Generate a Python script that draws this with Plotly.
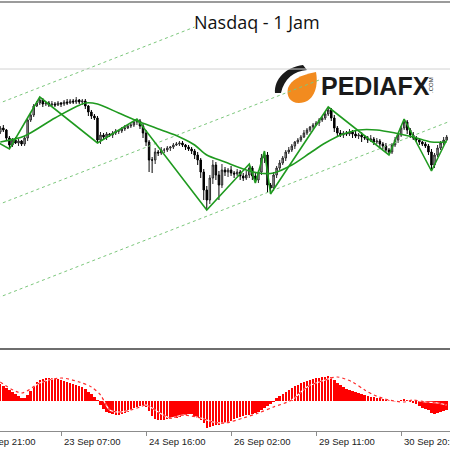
import plotly.graph_objects as go

W, H = 450, 450

# candles (hourly), one value per bar
closes = [
    15172, 15170, 15162, 15155, 15160, 15157, 15159, 15156, 15162, 15180,
    15185, 15194, 15197, 15200, 15196, 15197, 15195, 15196, 15195, 15197,
    15196, 15198, 15197, 15199, 15198, 15200, 15198, 15199, 15194, 15188,
    15184, 15182, 15160, 15165, 15163, 15166, 15165, 15167, 15169, 15169,
    15171, 15172, 15174, 15175, 15178, 15179, 15174, 15167, 15158, 15140,
    15140, 15148, 15147, 15150, 15150, 15152, 15153, 15155, 15156, 15157,
    15155, 15153, 15151, 15149, 15145, 15140, 15128, 15110, 15100, 15122,
    15135, 15125, 15115, 15130, 15128, 15130, 15127, 15126, 15128, 15124,
    15122, 15125, 15132, 15124, 15120, 15128, 15142, 15145, 15115, 15112,
    15125, 15132, 15137, 15142, 15148, 15150, 15154, 15158, 15160, 15163,
    15167, 15170, 15173, 15175, 15177, 15180, 15182, 15186, 15190, 15182,
    15172, 15167, 15165, 15167, 15166, 15168, 15166, 15164, 15165, 15163,
    15162, 15160, 15161, 15158, 15159, 15156, 15154, 15150, 15148, 15155,
    15160, 15165, 15172, 15178, 15170, 15165, 15162, 15160, 15158, 15156,
    15154, 15148, 15135, 15145, 15152, 15157, 15160, 15163,
]
first_open = 15168
upper_wick = [
    2, 3, 1, 2, 2, 3, 2, 1, 2, 2,
    3, 2, 2, 3, 2, 1, 2, 3, 2, 2,
    1, 2, 3, 2, 2, 3, 1, 2, 2, 1,
    2, 2, 2, 3, 2, 2, 1, 2, 2, 1,
    2, 3, 2, 2, 1, 2, 2, 2, 3, 2,
    3, 4, 2, 3, 2, 2, 1, 2, 2, 2,
    2, 1, 2, 2, 2, 3, 2, 3, 4, 3,
    5, 3, 4, 6, 3, 2, 4, 2, 3, 2,
    3, 4, 4, 2, 3, 2, 4, 4, 3, 2,
    3, 2, 3, 2, 2, 3, 2, 1, 2, 2,
    3, 2, 1, 2, 2, 2, 1, 2, 3, 2,
    3, 2, 3, 2, 2, 3, 2, 3, 2, 3,
    2, 2, 4, 2, 3, 2, 2, 3, 2, 2,
    3, 2, 2, 3, 2, 2, 3, 2, 2, 1,
    2, 2, 3, 2, 3, 2, 3, 2,
]
lower_wick = [
    2, 2, 3, 4, 2, 1, 3, 2, 2, 3,
    2, 2, 1, 2, 3, 2, 2, 1, 2, 1,
    3, 2, 2, 1, 2, 2, 2, 3, 3, 4,
    3, 2, 3, 4, 2, 3, 2, 3, 2, 3,
    2, 2, 1, 2, 2, 3, 3, 5, 4, 12,
    13, 4, 3, 2, 3, 2, 3, 2, 1, 2,
    2, 3, 2, 3, 4, 5, 6, 10, 10, 4,
    6, 5, 15, 3, 4, 5, 3, 4, 2, 4,
    3, 2, 3, 4, 3, 3, 3, 5, 8, 6,
    3, 3, 2, 2, 3, 2, 2, 3, 2, 2,
    1, 2, 2, 2, 1, 3, 2, 2, 2, 3,
    4, 3, 2, 3, 2, 2, 4, 2, 3, 5,
    2, 3, 2, 3, 2, 4, 3, 2, 3, 2,
    2, 3, 2, 2, 4, 3, 2, 2, 3, 2,
    2, 3, 6, 3, 2, 2, 2, 1,
]

# moving average, read at a few bars
ma_bars = [0, 8, 18, 28, 32, 39, 46, 53, 59, 64, 68, 74, 81, 85, 90, 96,
           102, 107, 113, 118, 124, 130, 136, 142, 147]
ma_vals = [15158, 15164, 15182, 15197, 15196, 15187, 15178, 15170, 15163,
           15155, 15145, 15138, 15130, 15127, 15127, 15135, 15147, 15157,
           15166, 15170, 15170, 15167, 15163, 15158, 15158]

# zigzag swing points
zz_bars = [-4, 3, 13, 32, 45, 68, 82, 84, 87, 89, 108, 128, 133, 142, 147]
zz_vals = [15163, 15151, 15203, 15157, 15181, 15090, 15136, 15117, 15149,
           15106, 15193, 15145, 15181, 15129, 15160]

# equidistant channel (three dotted lines)
chan_top_bars, chan_top_vals = [-1, 64], [15196, 15273]
chan_mid_bars, chan_mid_vals = [-1, 105], [15095, 15220]
chan_low_bars, chan_low_vals = [-1, 150], [15002, 15181]

# MACD main (histogram) and signal
macd_hist = [
    17, 15, 13, 11, 9, 7, 5, 3, 3, 6,
    10, 15, 19, 21, 22, 23, 23, 23, 23, 22,
    21, 20, 19, 18, 17, 16, 15, 14, 12, 9,
    7, 4, 1, -4, -8, -11, -12, -13, -14, -14,
    -13, -12, -11, -9, -7, -6, -5, -4, -6, -10,
    -15, -18, -19, -19, -19, -18, -18, -17, -17, -16,
    -15, -14, -13, -13, -16, -17, -19, -22, -27, -26,
    -25, -24, -24, -23, -22, -21, -20, -18, -17, -16,
    -15, -14, -14, -13, -12, -11, -9, -7, -5, -3,
    -1, 3, 5, 7, 9, 11, 13, 15, 16, 18,
    19, 20, 21, 22, 23, 23, 24, 24, 25, 24,
    21, 18, 16, 14, 12, 11, 10, 9, 8, 7,
    6, 5, 4, 4, 3, 3, 2, 2, 1, 0,
    -1, -1, 1, 2, 1, -1, -2, -3, -5, -7,
    -8, -9, -12, -13, -12, -11, -10, -9,
]
sig_bars = [0, 7, 13, 20, 26, 30, 33, 36, 39, 43, 46, 48, 52, 56, 60, 66, 70,
            74, 80, 85, 90, 96, 101, 107, 111, 116, 120, 123, 128, 133, 136,
            140, 144, 147]
sig_vals = [19, 8, 18, 23, 19, 14, 6, -9, -11, -9, -6, -4, -11, -17, -14, -17,
            -21, -22, -17, -12, -6, 1, 14, 21, 24, 19, 11, 6, 1, -1, 1, -1,
            -2, -4]

tick_bars = [-8, 20, 48, 76, 104, 132]
tick_labels = ['22 Sep 21:00', '23 Sep 07:00', '24 Sep 16:00',
               '26 Sep 02:00', '29 Sep 11:00', '30 Sep 20:00']

assert len(closes) == len(upper_wick) == len(lower_wick) == len(macd_hist)

bars = list(range(len(closes)))
opens = [first_open] + closes[:-1]
highs = [max(o, c) + w for o, c, w in zip(opens, closes, upper_wick)]
lows = [min(o, c) - w for o, c, w in zip(opens, closes, lower_wick)]

X_RANGE = [-0.1, 148.1]
GREEN = '#1f9a1f'
DOT_GREEN = '#7cc77c'

fig = go.Figure()

for bx, vy in [(chan_top_bars, chan_top_vals), (chan_mid_bars, chan_mid_vals),
               (chan_low_bars, chan_low_vals)]:
    fig.add_trace(go.Scatter(x=bx, y=vy, mode='lines', hoverinfo='skip',
                             line=dict(color=DOT_GREEN, width=1, dash='dot')))

fig.add_trace(go.Candlestick(
    x=bars, open=opens, high=highs, low=lows, close=closes,
    increasing=dict(line=dict(color='#2a2a2a', width=1), fillcolor='#b4b4b4'),
    decreasing=dict(line=dict(color='#000000', width=1), fillcolor='#000000'),
    whiskerwidth=0, hoverinfo='skip',
))

fig.add_trace(go.Scatter(x=ma_bars, y=ma_vals, mode='lines', hoverinfo='skip',
                         line=dict(color=GREEN, width=1.6, shape='spline', smoothing=0.8)))
fig.add_trace(go.Scatter(x=zz_bars, y=zz_vals, mode='lines', hoverinfo='skip',
                         line=dict(color=GREEN, width=1.6)))

fig.add_trace(go.Bar(x=bars, y=macd_hist, xaxis='x', yaxis='y2', width=0.78,
                     marker=dict(color='#ff0000', line=dict(width=0)),
                     hoverinfo='skip'))
# MT4 dotted pen: white gaps under red dots
fig.add_trace(go.Scatter(x=sig_bars, y=sig_vals, xaxis='x', yaxis='y2', mode='lines',
                         hoverinfo='skip',
                         line=dict(color='white', width=1.2, shape='spline', smoothing=0.8)))
fig.add_trace(go.Scatter(x=sig_bars, y=sig_vals, xaxis='x', yaxis='y2', mode='lines',
                         hoverinfo='skip',
                         line=dict(color='#ff2a2a', width=1.2, dash='dot',
                                   shape='spline', smoothing=0.8)))


def to_paper_x(b):
    return (b - X_RANGE[0]) / (X_RANGE[1] - X_RANGE[0])


def pix_path(cmds):
    parts = []
    for cmd, pts in cmds:
        coords = ' '.join(f'{x / W:.4f},{1 - y / H:.4f}' for x, y in pts)
        parts.append(f'{cmd} {coords}')
    return ' '.join(parts) + ' Z'


shapes = [
    dict(type='line', xref='paper', yref='paper', x0=0, x1=1, y0=1 - 2 / H, y1=1 - 2 / H,
         line=dict(color='#7a7a7a', width=1.5)),
    dict(type='line', xref='paper', yref='paper', x0=0, x1=1, y0=1 - 69 / H, y1=1 - 69 / H,
         line=dict(color='#d2d2d2', width=1)),
    dict(type='line', xref='paper', yref='paper', x0=0, x1=1, y0=1 - 349 / H, y1=1 - 349 / H,
         line=dict(color='#6e6e6e', width=2)),
    # logo: orange drop and black swoosh
    dict(type='path', xref='paper', yref='paper', layer='below',
         path=pix_path([('M', [(316, 72)]),
                        ('C', [(319, 88), (313, 103), (299, 103)]),
                        ('C', [(290, 103), (286, 96), (288, 88)]),
                        ('C', [(291, 80), (300, 75), (316, 72)])]),
         fillcolor='#f28b1f', line=dict(width=0)),
    dict(type='path', xref='paper', yref='paper', layer='below',
         path=pix_path([('M', [(275, 93)]),
                        ('C', [(274, 79), (286, 67), (303, 65)]),
                        ('L', [(307, 70)]),
                        ('C', [(294, 71), (284, 79), (281, 93)])]),
         fillcolor='#1a1a1a', line=dict(width=0)),
    dict(type='path', xref='paper', yref='paper', layer='below',
         path=pix_path([('M', [(283, 82)]), ('L', [(289, 77), (288, 99), (284, 96)])]),
         fillcolor='#1a1a1a', line=dict(width=0)),
]

annotations = [
    dict(text='Nasdaq - 1 Jam', xref='paper', yref='paper', x=257 / W, y=1 - 22 / H,
         xanchor='center', yanchor='middle', showarrow=False,
         font=dict(family='Open Sans', size=18, color='#111111')),
    dict(text='<b>PEDIAFX</b>', xref='paper', yref='paper', x=319 / W, y=1 - 86 / H,
         xanchor='left', yanchor='middle', showarrow=False,
         font=dict(family='Liberation Sans', size=25, color='#1a1a1a')),
    dict(text='.COM', xref='paper', yref='paper', x=431 / W, y=1 - 85 / H, textangle=-90,
         xanchor='center', yanchor='middle', showarrow=False,
         font=dict(family='Liberation Sans', size=6, color='#1a1a1a')),
]
for b, lab in zip(tick_bars, tick_labels):
    annotations.append(dict(text=lab, xref='paper', yref='paper', x=to_paper_x(b),
                            y=1 - 441 / H, xanchor='left', yanchor='middle', xshift=1,
                            showarrow=False,
                            font=dict(family='Liberation Sans', size=9.5, color='#222222')))

fig.update_layout(
    width=W, height=H,
    margin=dict(l=0, r=0, t=0, b=0),
    paper_bgcolor='white',
    plot_bgcolor='rgba(0,0,0,0)',
    showlegend=False,
    bargap=0,
    xaxis=dict(domain=[0, 1], range=X_RANGE, anchor='y2', showgrid=False, zeroline=False,
               showline=True, linecolor='#8c8c8c', linewidth=1,
               ticks='outside', ticklen=4, tickcolor='#8c8c8c',
               tickvals=tick_bars, showticklabels=False,
               rangeslider=dict(visible=False), fixedrange=True),
    yaxis=dict(domain=[1 - 348 / H, 1 - 3 / H], range=[14952, 15297], anchor='x',
               visible=False, fixedrange=True),
    yaxis2=dict(domain=[1 - 431 / H, 1 - 351 / H], range=[-30, 50], anchor='x',
                visible=False, fixedrange=True),
    shapes=shapes,
    annotations=annotations,
)

# the page body has a default 8px margin; drop it so the figure sits at 0,0
fig.write_html('out.html', config=dict(displayModeBar=False),
               post_script="document.body.style.margin = '0px';")
